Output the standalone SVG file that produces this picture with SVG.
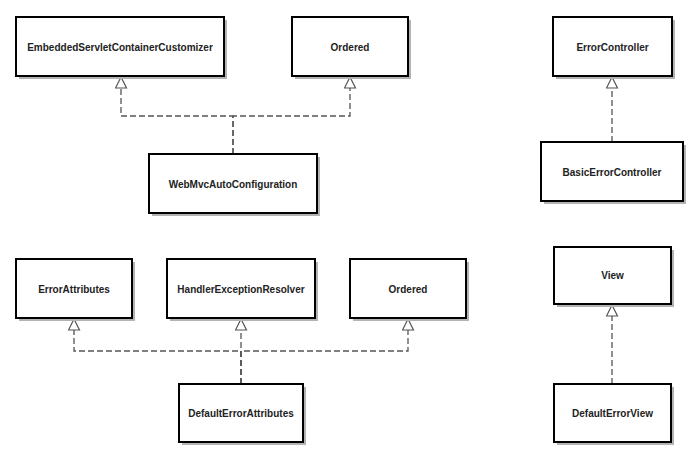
<svg xmlns="http://www.w3.org/2000/svg" width="700" height="459" viewBox="0 0 700 459">
<style>
.shadow{fill:#b3b3b3;stroke:none}
.box{fill:#ffffff;stroke:#000000;stroke-width:2}
.lbl{font-family:"Liberation Sans",Arial,sans-serif;font-size:10px;font-weight:bold;fill:#222222;text-anchor:middle;dominant-baseline:central}
.conn{fill:none;stroke:#555555;stroke-width:1.3;stroke-dasharray:6,3;marker-end:url(#tri)}
</style>
<defs>
<marker id="tri" viewBox="0 0 13 13" refX="12" refY="6.5" markerWidth="13" markerHeight="13" markerUnits="userSpaceOnUse" orient="auto">
<path d="M1,1 L12,6.5 L1,12 Z" fill="#ffffff" stroke="#555555" stroke-width="1.2"/>
</marker>
</defs>
<rect width="700" height="459" fill="#ffffff"/>
<g id="connectors">
<path class="conn" d="M233,154 V116 H121 V77"/>
<path class="conn" d="M233,154 V116 H350 V77"/>
<path class="conn" d="M612,142 V77"/>
<path class="conn" d="M241,384 V351 H74 V319"/>
<path class="conn" d="M241,384 V319"/>
<path class="conn" d="M241,384 V351 H408 V319"/>
<path class="conn" d="M612,384 V305"/>
</g>
<g id="n1"><rect class="shadow" x="19" y="20" width="208" height="59"/><rect class="box" x="16" y="17" width="208" height="59"/><text class="lbl" x="120" y="47">EmbeddedServletContainerCustomizer</text></g>
<g id="n2"><rect class="shadow" x="295" y="20" width="116" height="59"/><rect class="box" x="292" y="17" width="116" height="59"/><text class="lbl" x="350" y="47">Ordered</text></g>
<g id="n3"><rect class="shadow" x="152" y="157" width="168" height="59"/><rect class="box" x="149" y="154" width="168" height="59"/><text class="lbl" x="233" y="184">WebMvcAutoConfiguration</text></g>
<g id="n4"><rect class="shadow" x="556" y="20" width="119" height="59"/><rect class="box" x="553" y="17" width="119" height="59"/><text class="lbl" x="612.5" y="47">ErrorController</text></g>
<g id="n5"><rect class="shadow" x="544" y="145" width="142" height="59"/><rect class="box" x="541" y="142" width="142" height="59"/><text class="lbl" x="612" y="172">BasicErrorController</text></g>
<g id="n6"><rect class="shadow" x="19" y="262" width="116" height="59"/><rect class="box" x="16" y="259" width="116" height="59"/><text class="lbl" x="74" y="289">ErrorAttributes</text></g>
<g id="n7"><rect class="shadow" x="170" y="262" width="148" height="59"/><rect class="box" x="167" y="259" width="148" height="59"/><text class="lbl" x="241" y="289">HandlerExceptionResolver</text></g>
<g id="n8"><rect class="shadow" x="353" y="262" width="116" height="59"/><rect class="box" x="350" y="259" width="116" height="59"/><text class="lbl" x="408" y="289">Ordered</text></g>
<g id="n9"><rect class="shadow" x="182" y="387" width="124" height="58"/><rect class="box" x="179" y="384" width="124" height="58"/><text class="lbl" x="241" y="413">DefaultErrorAttributes</text></g>
<g id="n10"><rect class="shadow" x="557" y="250" width="117" height="57"/><rect class="box" x="554" y="247" width="117" height="57"/><text class="lbl" x="612.5" y="275.5">View</text></g>
<g id="n11"><rect class="shadow" x="557" y="387" width="117" height="58"/><rect class="box" x="554" y="384" width="117" height="58"/><text class="lbl" x="612.5" y="413">DefaultErrorView</text></g>
</svg>
